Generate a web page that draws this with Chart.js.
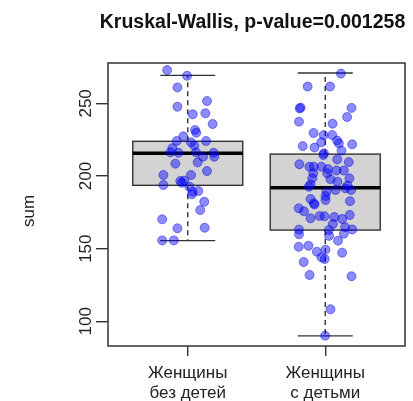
<!DOCTYPE html>
<html>
<head>
<meta charset="utf-8">
<script src="https://cdn.jsdelivr.net/npm/chart.js@4.4.1/dist/chart.umd.min.js"></script>
<style>
  html, body { margin: 0; padding: 0; background: #fff; }
</style>
</head>
<body>
<canvas id="chart" width="413" height="401"></canvas>
<script>
const chartTitle = 'Kruskal-Wallis, p-value=0.001258';
const yTitle = 'sum';
const categories = [['Женщины', 'без детей'], ['Женщины', 'с детьми']];
const groupPositions = [1, 2];
const yTicks = [100, 150, 200, 250];

// box statistics
const boxQ1 = [193.6, 162.8];
const boxMedian = [215.6, 192.0];
const boxQ3 = [223.9, 215.1];
const whiskerLow = [155.5, 90.0];
const whiskerHigh = [269.3, 270.9];

// jittered points: [x position, sum]
const womenNoChildren = [
  [0.850, 272.9], [0.995, 269.0], [0.925, 261.0], [1.140, 251.6], [0.925, 247.7],
  [1.036, 242.5], [1.128, 243.2], [1.181, 235.8], [1.053, 231.7], [1.062, 229.8],
  [0.968, 227.3], [0.920, 224.1], [1.133, 224.1], [1.024, 223.2], [0.888, 219.1],
  [0.874, 216.3], [0.932, 216.0], [1.048, 220.9], [1.060, 216.3], [1.188, 216.0],
  [1.193, 213.3], [1.111, 213.3], [1.072, 209.4], [0.910, 208.5], [1.140, 203.4],
  [0.823, 200.7], [1.024, 200.7], [0.823, 193.8], [0.946, 196.6], [0.975, 196.8],
  [0.957, 195.4], [1.012, 192.6], [1.036, 189.2], [1.077, 189.7], [1.031, 187.4],
  [1.120, 182.3], [1.091, 176.6], [0.814, 170.2], [0.925, 164.0], [1.123, 164.4],
  [0.814, 155.7], [0.899, 155.7]
];
const womenWithChildren = [
  [2.114, 270.5], [1.872, 261.6], [2.035, 261.6], [1.821, 247.1], [1.814, 246.5],
  [2.191, 246.9], [2.159, 240.6], [1.809, 237.4], [2.053, 236.0], [1.915, 229.6],
  [1.988, 228.2], [2.051, 228.2], [2.086, 224.4], [2.099, 222.5], [1.971, 223.2],
  [1.836, 220.6], [1.922, 219.6], [2.196, 221.8], [2.118, 217.5], [1.990, 215.6],
  [1.986, 214.5], [2.087, 211.4], [2.171, 209.6], [1.812, 208.1], [1.885, 206.4],
  [1.917, 206.4], [1.972, 206.4], [2.020, 204.8], [2.082, 203.8], [2.135, 203.8],
  [1.913, 201.9], [2.014, 201.9], [1.906, 198.4], [2.038, 197.9], [2.089, 196.1],
  [2.176, 198.4], [1.893, 194.3], [1.881, 192.6], [2.162, 193.5], [2.147, 191.5],
  [2.188, 190.4], [2.009, 189.2], [2.075, 190.4], [2.002, 186.2], [1.893, 184.2],
  [1.917, 181.2], [1.922, 180.4], [2.002, 183.5], [2.180, 182.7], [1.807, 177.8],
  [1.845, 175.7], [1.893, 170.9], [1.959, 172.5], [1.995, 172.3], [2.066, 171.8],
  [2.123, 170.4], [2.178, 173.2], [2.055, 167.0], [2.145, 164.8], [2.196, 163.2],
  [1.809, 163.1], [2.026, 162.8], [1.809, 159.9], [2.028, 158.8], [2.093, 155.5],
  [2.135, 160.3], [1.807, 151.3], [1.878, 152.0], [1.939, 147.9], [2.002, 149.3],
  [2.123, 147.2], [1.973, 144.0], [1.996, 142.9], [1.843, 140.8], [1.886, 131.9],
  [2.191, 131.0], [2.038, 108.3], [1.999, 90.1]
];

const FONT = "'Liberation Sans', Arial, sans-serif";
const INK = '#333';
const boxHalfWidth = 0.4;
const capHalfWidth = 0.2;

const toPoints = (pairs) => pairs.map(([x, y]) => ({ x, y }));

function line(ctx, x1, y1, x2, y2) {
  ctx.beginPath();
  ctx.moveTo(x1, y1);
  ctx.lineTo(x2, y2);
  ctx.stroke();
}

const boxPlugin = {
  id: 'boxes',
  beforeDatasetsDraw(chart) {
    const { ctx, scales: { x, y } } = chart;
    ctx.save();
    groupPositions.forEach((pos, i) => {
      const left = x.getPixelForValue(pos - boxHalfWidth);
      const right = x.getPixelForValue(pos + boxHalfWidth);
      const mid = x.getPixelForValue(pos);
      const capL = x.getPixelForValue(pos - capHalfWidth);
      const capR = x.getPixelForValue(pos + capHalfWidth);
      const q1 = y.getPixelForValue(boxQ1[i]);
      const q3 = y.getPixelForValue(boxQ3[i]);
      const med = y.getPixelForValue(boxMedian[i]);
      const lo = y.getPixelForValue(whiskerLow[i]);
      const hi = y.getPixelForValue(whiskerHigh[i]);

      ctx.strokeStyle = INK;
      ctx.lineWidth = 1.4;
      ctx.setLineDash([5, 4]);
      line(ctx, mid, q3, mid, hi);
      line(ctx, mid, q1, mid, lo);
      ctx.setLineDash([]);
      line(ctx, capL, hi, capR, hi);
      line(ctx, capL, lo, capR, lo);

      ctx.fillStyle = '#d3d3d3';
      ctx.fillRect(left, q3, right - left, q1 - q3);
      ctx.strokeRect(left, q3, right - left, q1 - q3);

      ctx.strokeStyle = '#000';
      ctx.lineWidth = 3.5;
      line(ctx, left, med, right, med);
    });
    ctx.restore();
  },
  afterDraw(chart) {
    const { ctx, chartArea, scales: { y } } = chart;
    ctx.save();
    ctx.strokeStyle = INK;
    ctx.lineWidth = 1.5;
    ctx.strokeRect(chartArea.left, chartArea.top,
      chartArea.right - chartArea.left, chartArea.bottom - chartArea.top);

    ctx.fillStyle = '#222';
    ctx.font = `17px ${FONT}`;
    ctx.textAlign = 'center';
    ctx.textBaseline = 'alphabetic';
    y.ticks.forEach((t) => {
      ctx.save();
      ctx.translate(91, y.getPixelForValue(t.value));
      ctx.rotate(-Math.PI / 2);
      ctx.fillText(String(t.value), 0, 0);
      ctx.restore();
    });

    ctx.save();
    ctx.translate(34, 211);
    ctx.rotate(-Math.PI / 2);
    ctx.fillText(yTitle, 0, 0);
    ctx.restore();

    ctx.fillStyle = '#111';
    ctx.font = `bold 19.5px ${FONT}`;
    ctx.fillText(chartTitle, (chartArea.left + chartArea.right) / 2 - 4, 28);
    ctx.restore();
  },
};

const pointStyle = {
  pointRadius: 4.5,
  pointHoverRadius: 4.5,
  pointBackgroundColor: 'rgba(0, 0, 255, 0.45)',
  pointBorderColor: 'rgba(0, 0, 220, 0.45)',
  pointBorderWidth: 1,
};

new Chart(document.getElementById('chart'), {
  type: 'scatter',
  data: {
    datasets: [
      { label: categories[0].join(' '), data: toPoints(womenNoChildren), ...pointStyle },
      { label: categories[1].join(' '), data: toPoints(womenWithChildren), ...pointStyle },
    ],
  },
  options: {
    responsive: false,
    animation: false,
    layout: { padding: { top: 63, right: 8, left: 0, bottom: 0 } },
    plugins: {
      legend: { display: false },
      tooltip: { enabled: false },
      title: { display: false },
    },
    scales: {
      x: {
        type: 'linear',
        min: 0.42,
        max: 2.58,
        afterBuildTicks(scale) {
          scale.ticks = groupPositions.map((v) => ({ value: v }));
        },
        afterFit(scale) {
          scale.height = 55;
        },
        border: { display: false },
        grid: {
          drawOnChartArea: false,
          drawTicks: true,
          tickLength: 10,
          color: INK,
          lineWidth: 1.4,
        },
        ticks: {
          padding: 7,
          maxRotation: 0,
          color: '#222',
          font: { family: FONT, size: 17, lineHeight: 1.2 },
          callback: (value) => categories[groupPositions.indexOf(value)],
        },
      },
      y: {
        min: 83,
        max: 277.8,
        afterBuildTicks(scale) {
          scale.ticks = yTicks.map((v) => ({ value: v }));
        },
        afterFit(scale) {
          scale.width = 108;
        },
        border: { display: false },
        grid: {
          drawOnChartArea: false,
          drawTicks: true,
          tickLength: 12,
          color: INK,
          lineWidth: 1.4,
        },
        ticks: { display: false },
      },
    },
  },
  plugins: [boxPlugin],
});
</script>
</body>
</html>
